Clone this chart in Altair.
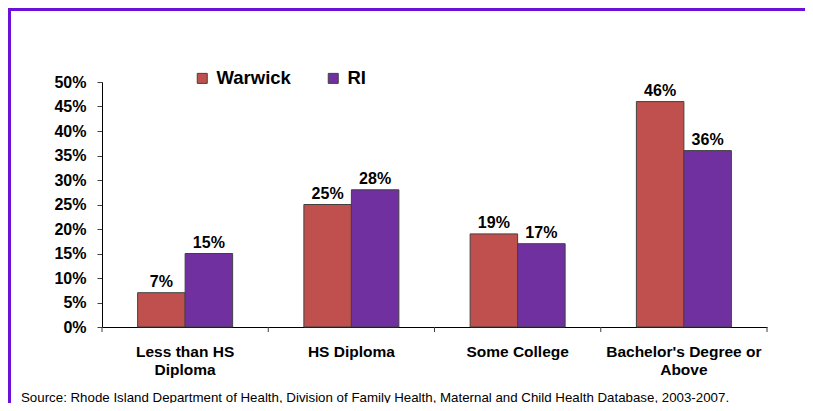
import json
import altair as alt
import pandas as pd

categories = ["Less than HS Diploma", "HS Diploma", "Some College", "Bachelor's Degree or Above"]
label_lines = {
    "Less than HS Diploma": ["Less than HS", "Diploma"],
    "Bachelor's Degree or Above": ["Bachelor's Degree or", "Above"],
}
series = ["Warwick", "RI"]
warwick = [0.07, 0.25, 0.19, 0.46]
ri = [0.15, 0.28, 0.17, 0.36]
colors = ["#C0504D", "#7030A0"]
y_ticks = [0.0, 0.05, 0.10, 0.15, 0.20, 0.25, 0.30, 0.35, 0.40, 0.45, 0.50]
source = "Source: Rhode Island Department of Health, Division of Family Health, Maternal and Child Health Database, 2003-2007."

rows = []
for i, c in enumerate(categories):
    rows.append({"Category": c, "Series": "Warwick", "Value": warwick[i]})
    rows.append({"Category": c, "Series": "RI", "Value": ri[i]})
df = pd.DataFrame(rows)
cat_df = pd.DataFrame({"Category": categories})
last_df = pd.DataFrame({"Category": categories[-1:]})

FONT = "Liberation Sans"
W, H = 665, 245
PAD = {"left": 94, "top": 74, "right": 38, "bottom": 76}

expr = "datum.value"
for k, v in label_lines.items():
    expr = f"datum.value == {json.dumps(k)} ? {json.dumps(v)} : ({expr})"

x_axis = alt.Axis(
    title=None, labelAngle=0, ticks=False, grid=False, domainColor="#000000", domainWidth=1,
    labelFont=FONT, labelFontSize=15.5, labelFontWeight="bold", labelColor="#000000",
    labelPadding=17, labelLineHeight=18, labelLimit=300, labelExpr=expr,
)
y_axis = alt.Axis(
    title=None, values=y_ticks, format=".0%", grid=False, labelOverlap=False,
    labelSeparation=0, labelBound=False,
    domainColor="#000000", tickColor="#404040", tickSize=5, labelPadding=11,
    labelFont=FONT, labelFontSize=16, labelFontWeight="bold", labelColor="#000000",
)
x_scale = alt.Scale(paddingInner=0, paddingOuter=0)
y_scale = alt.Scale(domain=[0, 0.5], nice=False)

bars = alt.Chart(df).mark_bar(stroke="#404040", strokeWidth=1).encode(
    x=alt.X("Category:N", sort=categories, scale=x_scale, axis=x_axis),
    xOffset=alt.XOffset("Series:N", sort=series, scale=alt.Scale(paddingOuter=0.75, paddingInner=0)),
    y=alt.Y("Value:Q", scale=y_scale, axis=y_axis),
    color=alt.Color(
        "Series:N",
        sort=series,
        scale=alt.Scale(domain=series, range=colors),
        legend=alt.Legend(
            orient="none", legendX=91, legendY=-13, direction="horizontal", title=None,
            symbolType="square", symbolSize=100, symbolStrokeColor="#404040",
            symbolStrokeWidth=1, symbolOpacity=1, labelFont=FONT, labelFontSize=18.5,
            labelFontWeight="bold", labelColor="#000000", columnPadding=33,
            labelOffset=5, padding=0,
        ),
    ),
)

labels = alt.Chart(df).mark_text(
    baseline="alphabetic", dy=-6, font=FONT, fontSize=16, fontWeight="bold", color="#000000"
).encode(
    x=alt.X("Category:N", sort=categories, axis=x_axis),
    xOffset=alt.XOffset("Series:N", sort=series),
    y=alt.Y("Value:Q", axis=y_axis),
    text=alt.Text("Value:Q", format=".0%"),
)

ticks_start = alt.Chart(cat_df).mark_rule(color="#404040").encode(
    x=alt.X("Category:N", sort=categories, bandPosition=0, axis=x_axis),
    y=alt.value(H), y2=alt.value(H + 5),
)
ticks_end = alt.Chart(last_df).mark_rule(color="#404040").encode(
    x=alt.X("Category:N", sort=categories, bandPosition=1, axis=x_axis),
    y=alt.value(H), y2=alt.value(H + 5),
)

frame_top = alt.Chart(last_df).mark_rule(color="#6B10D6", strokeWidth=3).encode(
    x=alt.value(-PAD["left"]), x2=alt.value(W + PAD["right"]), y=alt.value(-PAD["top"] + 1.5)
)
frame_left = alt.Chart(last_df).mark_rule(color="#6B10D6", strokeWidth=3).encode(
    x=alt.value(-PAD["left"] + 1.5), y=alt.value(-PAD["top"]), y2=alt.value(H + PAD["bottom"])
)

chart = alt.layer(frame_top, frame_left, bars, labels, ticks_start, ticks_end).properties(
    width=W, height=H, padding=PAD,
    autosize=alt.AutoSizeParams(type="none"),
    title=alt.TitleParams(
        text=source, orient="bottom", anchor="start", frame="group", dx=-81, offset=-14,
        font=FONT, fontSize=13.3, fontWeight="normal", color="#000000",
    ),
).configure(
    background="#FFFFFF",
    view=alt.ViewConfig(stroke=None),
    axisY=alt.AxisConfig(labelOverlap=False, labelSeparation=0),
)

chart.save("out.html", embed_options={"renderer": "svg", "actions": False})
